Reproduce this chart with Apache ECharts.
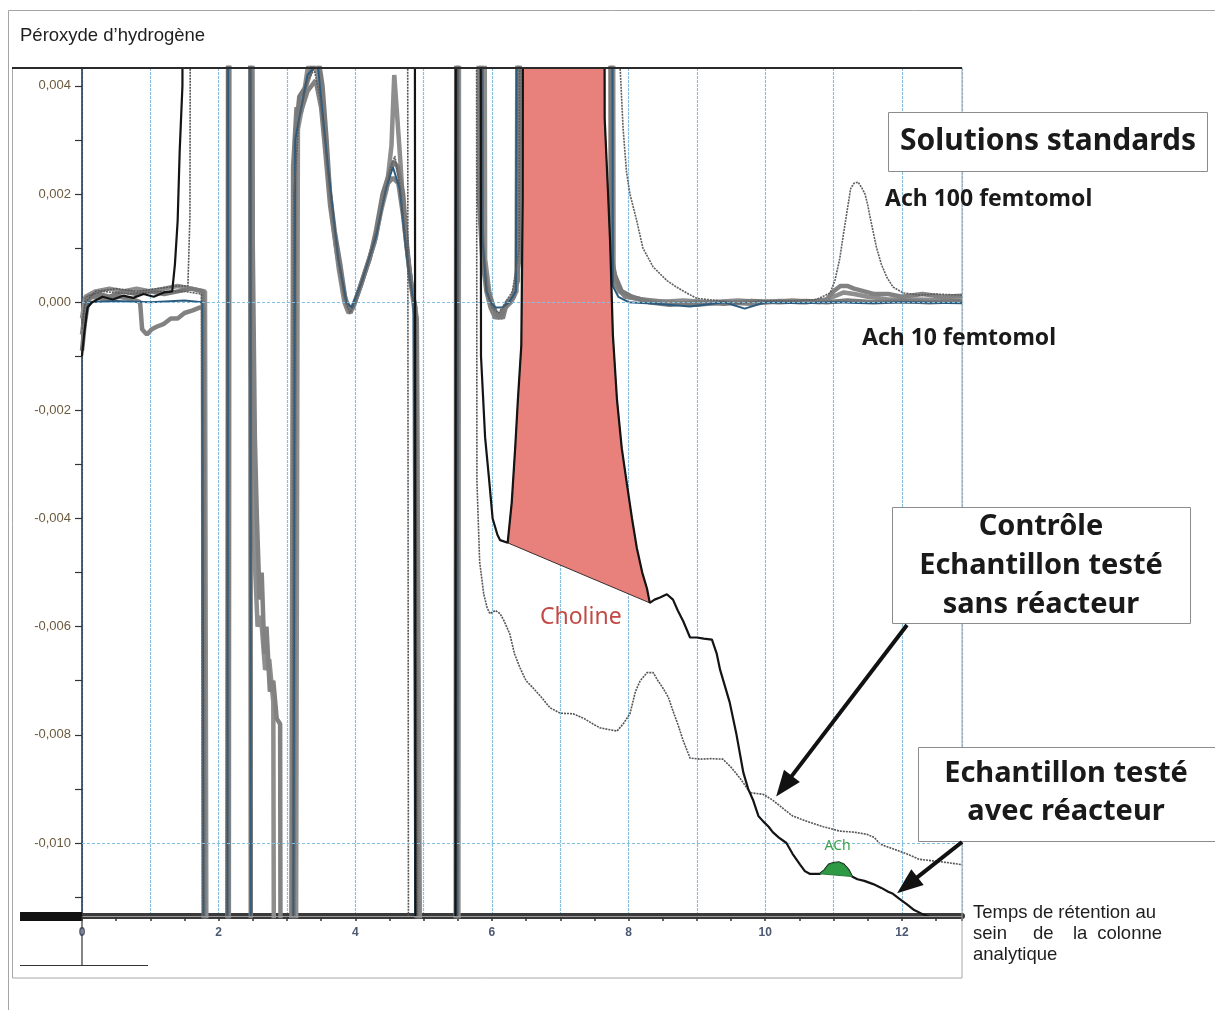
<!DOCTYPE html>
<html>
<head>
<meta charset="utf-8">
<script src="https://cdn.jsdelivr.net/npm/echarts@6/dist/echarts.min.js"></script>
<style>
html,body{margin:0;padding:0;background:#fff;}
#chart{width:1215px;height:1010px;}
</style>
</head>
<body>
<div id="chart"></div>
<script>
// ---- Axis values (retention time in min, H2O2 signal) ----
const xRange = [0, 12.88];
const yRange = [-0.01135, 0.00433];
const yLabelValues = [-0.010, -0.008, -0.006, -0.004, -0.002, 0, 0.002, 0.004];
const yTickValues = [-0.011, -0.010, -0.009, -0.008, -0.007, -0.006, -0.005, -0.004, -0.003, -0.002, -0.001, 0, 0.001, 0.002, 0.003, 0.004];

// ---- Standard solution runs (grey traces) ----
const runStdA = [[0.00,-0.0009],[0.04,-0.0004],[0.10,0.0001],[0.25,0.00015],[0.40,0.0001],[0.60,0.0002],[0.80,0.00015],[1.00,0.0002],[1.20,0.00015],[1.40,0.0002],[1.60,0.00025],[1.77,0.0002],[1.80,-0.03],[2.12,-0.03],[2.15,0.03],[2.45,0.03],[2.48,-0.03],[3.07,-0.03],[3.12,0.0030],[3.18,0.0038],[3.28,0.0040],[3.38,0.0044],[3.46,0.0045],[3.52,0.0040],[3.58,0.0030],[3.63,0.0020],[3.70,0.0013],[3.78,0.0007],[3.85,0.0001],[3.90,-0.0001],[3.96,-0.0001],[4.02,0.0001],[4.10,0.0004],[4.21,0.0008],[4.30,0.0013],[4.40,0.0020],[4.50,0.0024],[4.56,0.0026],[4.62,0.0025],[4.70,0.0020],[4.76,0.0010],[4.82,0.0003],[4.88,-0.0001],[4.93,-0.03],[5.48,-0.03],[5.51,0.03],[5.82,0.03],[5.85,0.0014],[5.89,0.0006],[5.94,0.0002],[6.00,0.0000],[6.06,-0.0002],[6.12,-0.0003],[6.18,-0.0001],[6.25,0.0000],[6.32,0.0001],[6.40,0.0008],[6.45,0.03],[7.70,0.03],[7.74,0.0009],[7.80,0.0005],[7.90,0.0002],[8.05,0.0001],[8.30,0.0],[8.60,-0.00005],[9.00,0.0],[9.40,-0.00003],[9.80,0.00002],[10.20,0.0],[10.60,0.00002],[10.90,0.0],[11.20,0.00003],[11.60,0.0],[12.00,0.00002],[12.40,0.0],[12.88,0.00002]];

const runStdB = [[0.00,-0.0006],[0.06,0.0],[0.15,0.0001],[0.35,0.00005],[0.55,0.0001],[0.75,0.00005],[0.85,0.0],[0.88,-0.0005],[0.95,-0.0006],[1.02,-0.0005],[1.10,-0.00045],[1.20,-0.0004],[1.30,-0.0003],[1.40,-0.0003],[1.50,-0.0002],[1.62,-0.00015],[1.72,-0.0001],[1.78,-0.0001],[1.82,-0.03],[2.14,-0.03],[2.17,0.03],[2.46,0.03],[2.50,0.0010],[2.53,-0.0025],[2.56,-0.0040],[2.60,-0.0055],[2.63,-0.0050],[2.67,-0.0065],[2.70,-0.0060],[2.75,-0.0072],[2.80,-0.0070],[2.85,-0.0077],[2.90,-0.0078],[2.93,-0.03],[3.03,-0.03],[3.09,0.0025],[3.14,0.0036],[3.20,0.0035],[3.30,0.0039],[3.42,0.0041],[3.50,0.0036],[3.56,0.0028],[3.63,0.0018],[3.72,0.0010],[3.80,0.0004],[3.88,-0.0001],[3.93,-0.0002],[3.99,0.0],[4.08,0.0003],[4.18,0.0007],[4.30,0.0012],[4.40,0.0019],[4.48,0.0022],[4.55,0.0023],[4.63,0.0022],[4.70,0.0016],[4.78,0.0007],[4.86,0.0],[4.90,-0.0003],[4.97,-0.03],[5.46,-0.03],[5.49,0.03],[5.78,0.03],[5.81,0.0019],[5.86,0.0008],[5.92,0.0002],[5.98,-0.0001],[6.05,-0.0003],[6.10,-0.0002],[6.16,-0.0003],[6.22,0.0],[6.30,0.0001],[6.38,0.0004],[6.42,0.03],[7.72,0.03],[7.76,0.0007],[7.82,0.0003],[7.95,0.0001],[8.20,0.00005],[8.60,0.0],[9.00,-0.00005],[9.40,0.0],[9.80,-0.00003],[10.20,0.00002],[10.60,0.0],[10.90,0.00005],[11.00,0.0002],[11.10,0.0003],[11.20,0.0003],[11.30,0.00025],[11.45,0.0002],[11.60,0.00015],[11.80,0.00015],[12.00,0.0001],[12.30,0.00015],[12.60,0.0001],[12.88,0.00012]];

const runStdC = [[0.00,-0.0003],[0.05,0.0001],[0.20,0.0002],[0.40,0.00025],[0.60,0.0002],[0.80,0.00025],[1.00,0.0002],[1.20,0.00025],[1.40,0.0003],[1.60,0.00025],[1.80,0.0002],[1.85,-0.03],[2.13,-0.03],[2.16,0.03],[2.43,0.03],[2.47,-0.0010],[2.52,-0.0045],[2.57,-0.0060],[2.62,-0.0058],[2.68,-0.0068],[2.74,-0.0066],[2.80,-0.0074],[2.84,-0.03],[3.10,-0.03],[3.16,0.0032],[3.22,0.0036],[3.30,0.0043],[3.38,0.0046],[3.44,0.0043],[3.52,0.0035],[3.60,0.0024],[3.68,0.0014],[3.76,0.0006],[3.84,0.0],[3.90,-0.0002],[3.97,-0.0001],[4.05,0.0002],[4.15,0.0006],[4.28,0.0011],[4.38,0.0017],[4.46,0.0021],[4.53,0.0029],[4.57,0.0042],[4.61,0.0035],[4.66,0.0026],[4.72,0.0014],[4.80,0.0005],[4.86,-0.0001],[4.90,-0.0004],[5.02,-0.03],[5.50,-0.03],[5.53,0.03],[5.86,0.03],[5.90,0.0008],[5.96,0.0002],[6.02,-0.0001],[6.08,-0.0003],[6.14,-0.0002],[6.20,-0.0001],[6.28,0.0],[6.36,0.0002],[6.44,0.03],[7.74,0.03],[7.78,0.0006],[7.86,0.0002],[8.00,0.0001],[8.40,0.0],[8.80,0.00003],[9.20,0.0],[9.60,0.00003],[10.00,0.0],[10.40,0.00003],[10.80,0.0],[11.00,0.0001],[11.15,0.00018],[11.30,0.00015],[11.50,0.0001],[11.80,0.00005],[12.20,0.00005],[12.88,0.00003]];

// Ach 100 femtomol standard (thin dotted trace)
const runAch100 = [[0.00,-0.0005],[0.05,0.0001],[0.30,0.0002],[0.70,0.00015],[1.10,0.0002],[1.50,0.0002],[1.75,0.00015],[1.79,-0.03],[2.10,-0.03],[2.14,0.03],[2.46,0.03],[2.49,-0.03],[3.06,-0.03],[3.10,0.0020],[3.18,0.0034],[3.30,0.0041],[3.40,0.0043],[3.48,0.0038],[3.56,0.0029],[3.64,0.0019],[3.74,0.0009],[3.84,0.0001],[3.92,-0.0002],[4.00,0.0],[4.10,0.0004],[4.22,0.0009],[4.35,0.0015],[4.45,0.0021],[4.52,0.0025],[4.58,0.0027],[4.66,0.0021],[4.74,0.0011],[4.82,0.0002],[4.88,-0.0002],[4.95,-0.03],[5.49,-0.03],[5.52,0.03],[5.84,0.03],[5.87,0.0010],[5.93,0.0002],[6.00,-0.0001],[6.10,-0.0002],[6.20,0.0],[6.30,0.0002],[6.40,0.0010],[6.45,0.03],[7.85,0.03],[7.87,0.0045],[7.92,0.0032],[7.97,0.0024],[8.02,0.0020],[8.12,0.0015],[8.21,0.0010],[8.36,0.00065],[8.56,0.0004],[8.70,0.00028],[8.85,0.00017],[9.00,0.00007],[9.30,0.00003],[9.60,-0.00002],[10.00,0.00003],[10.40,0.00002],[10.75,0.00005],[10.95,0.00017],[11.02,0.0004],[11.09,0.0008],[11.15,0.0013],[11.20,0.0017],[11.25,0.0021],[11.30,0.0022],[11.36,0.00222],[11.42,0.0021],[11.46,0.0020],[11.50,0.0018],[11.53,0.0016],[11.58,0.0013],[11.63,0.0010],[11.70,0.0007],[11.78,0.00046],[11.87,0.00028],[12.02,0.00017],[12.26,0.00013],[12.50,0.00015],[12.88,0.00013]];

// Mobile-phase blank (blue trace)
const runBlank = [[0.05,-0.0003],[0.10,0.0],[0.50,0.00002],[1.00,0.0],[1.50,0.00003],[1.76,0.0],[1.81,-0.03],[2.12,-0.03],[2.15,0.03],[2.45,0.03],[2.48,-0.03],[3.06,-0.03],[3.12,0.0030],[3.30,0.0042],[3.45,0.0044],[3.60,0.0025],[3.75,0.0008],[3.87,0.0],[3.95,-0.0001],[4.10,0.0004],[4.30,0.0012],[4.45,0.0021],[4.55,0.0025],[4.65,0.0021],[4.75,0.0009],[4.85,0.0],[4.92,-0.03],[5.48,-0.03],[5.51,0.03],[5.83,0.03],[5.86,0.0012],[5.92,0.0002],[5.98,0.0],[6.05,-0.0001],[6.15,-0.0001],[6.25,0.0],[6.35,0.0002],[6.43,0.03],[7.73,0.03],[7.77,0.0003],[7.85,0.0001],[8.00,0.0],[8.40,-0.00003],[8.90,-0.00008],[9.40,0.0],[9.70,-0.00012],[10.00,0.0],[10.50,-0.00002],[11.00,0.0],[11.50,-0.00002],[12.00,0.0],[12.88,-0.00002]];

// Control: sample tested without reactor (thin dotted trace)
const runControl = [[0.00,-0.0004],[0.05,0.0],[0.20,0.0002],[0.50,0.00025],[0.80,0.0002],[1.10,0.00025],[1.40,0.0003],[1.55,0.0003],[1.58,0.0016],[1.62,0.03],[4.75,0.03],[4.79,-0.03],[5.45,-0.03],[5.48,0.03],[5.76,0.03],[5.78,-0.0033],[5.82,-0.0048],[5.88,-0.0054],[5.93,-0.00565],[5.97,-0.00576],[6.05,-0.0057],[6.12,-0.00576],[6.18,-0.0059],[6.26,-0.00613],[6.33,-0.0065],[6.41,-0.00676],[6.50,-0.0070],[6.60,-0.00713],[6.72,-0.0073],[6.85,-0.0075],[7.00,-0.0076],[7.19,-0.00761],[7.35,-0.0077],[7.48,-0.0078],[7.58,-0.00787],[7.70,-0.0079],[7.83,-0.00793],[7.92,-0.0078],[8.02,-0.00761],[8.10,-0.0072],[8.17,-0.0070],[8.27,-0.00685],[8.36,-0.00685],[8.43,-0.0070],[8.50,-0.00713],[8.58,-0.0073],[8.65,-0.00756],[8.72,-0.0078],[8.80,-0.00811],[8.90,-0.00843],[9.05,-0.00845],[9.20,-0.00844],[9.38,-0.00845],[9.50,-0.0086],[9.63,-0.0088],[9.78,-0.00907],[9.97,-0.0091],[10.10,-0.0092],[10.22,-0.00932],[10.40,-0.0095],[10.61,-0.0096],[10.85,-0.0097],[11.09,-0.00978],[11.30,-0.0098],[11.49,-0.00984],[11.60,-0.0099],[11.68,-0.01002],[11.85,-0.0101],[12.07,-0.0102],[12.25,-0.0103],[12.45,-0.01033],[12.65,-0.01036],[12.88,-0.0104]];

// Sample tested with reactor (black trace)
const runSample = [[0.00,-0.0010],[0.03,-0.0006],[0.08,-0.0001],[0.15,0.0],[0.30,0.0001],[0.45,0.00005],[0.60,0.00012],[0.75,0.00008],[0.90,0.00015],[1.05,0.0001],[1.20,0.00018],[1.32,0.0002],[1.36,0.0007],[1.40,0.0015],[1.43,0.0028],[1.47,0.0040],[1.50,0.03],[4.86,0.03],[4.89,-0.03],[5.46,-0.03],[5.48,0.03],[5.82,0.03],[5.84,-0.0010],[5.90,-0.0025],[5.96,-0.0033],[6.01,-0.0040],[6.08,-0.0043],[6.12,-0.0044],[6.23,-0.00445],[6.29,-0.0037],[6.34,-0.0027],[6.38,-0.0018],[6.43,-0.0008],[6.45,0.0019],[6.48,0.03],[7.62,0.03],[7.65,0.0034],[7.70,0.0020],[7.73,0.0011],[7.77,-0.0006],[7.83,-0.0018],[7.90,-0.0027],[7.98,-0.0034],[8.05,-0.0040],[8.12,-0.00454],[8.20,-0.0050],[8.27,-0.0053],[8.31,-0.00556],[8.38,-0.0055],[8.46,-0.00546],[8.56,-0.0054],[8.65,-0.0055],[8.72,-0.0057],[8.80,-0.0059],[8.90,-0.0062],[9.00,-0.0062],[9.10,-0.00622],[9.22,-0.00624],[9.29,-0.0065],[9.34,-0.0068],[9.41,-0.0071],[9.48,-0.0074],[9.58,-0.0080],[9.68,-0.0087],[9.75,-0.0090],[9.82,-0.0092],[9.90,-0.0095],[9.97,-0.0096],[10.05,-0.0097],[10.11,-0.0098],[10.20,-0.0099],[10.31,-0.0100],[10.40,-0.0102],[10.51,-0.0104],[10.58,-0.01052],[10.65,-0.01057],[10.80,-0.01057],[10.87,-0.0105],[10.93,-0.0104],[11.00,-0.01037],[11.08,-0.01036],[11.15,-0.0104],[11.22,-0.0105],[11.27,-0.01062],[11.35,-0.01067],[11.45,-0.0107],[11.58,-0.01076],[11.70,-0.01083],[11.80,-0.0109],[11.87,-0.01094],[11.95,-0.01102],[12.07,-0.01113],[12.18,-0.01124],[12.31,-0.01132],[12.40,-0.01136]];

// Integrated peak windows on the sample trace
const cholineSpan = [6.23, 8.31];
const achSpan = [10.80, 11.27];

// Where the annotation arrows point (time, signal)
const arrowTargets = [[10.16, -0.00914], [11.93, -0.01093]];
const labelAnchors = { choline: [7.30, -0.00583], ach: [11.06, -0.01005] };

const fmtY = v => v.toFixed(3).replace('.', ',');

const chart = echarts.init(document.getElementById('chart'), null, { renderer: 'canvas' });

const GRID_BLUE = '#86c0e0';
const GREY = '#828282';

function lineSeries(name, data, style, z) {
  return {
    name, type: 'line', data, z,
    showSymbol: false, symbol: 'none', silent: true, animation: false,
    clip: true,
    lineStyle: style
  };
}

function peakFill(span, fill, stroke, z) {
  return {
    type: 'custom', z, silent: true, animation: false,
    data: [0],
    renderItem: (params, api) => {
      const pts = runSample.filter(p => p[0] >= span[0] && p[0] <= span[1]).map(p => api.coord(p));
      const cs = params.coordSys;
      return {
        type: 'polygon',
        shape: { points: pts },
        style: { fill, stroke, lineWidth: 1 },
        clipPath: { type: 'rect', shape: { x: cs.x, y: cs.y, width: cs.width, height: cs.height } }
      };
    }
  };
}

const option = {
  animation: false,
  backgroundColor: '#ffffff',
  grid: { left: 82, right: 253, top: 68, bottom: 94, containLabel: false },
  xAxis: {
    type: 'value', min: xRange[0], max: xRange[1], interval: 1,
    axisLine: { onZero: false, lineStyle: { color: '#3a3a3a', width: 6 } },
    axisTick: { show: true, length: 5, lineStyle: { color: '#333', width: 1.5 } },
    minorTick: { show: true, splitNumber: 2, length: 5, lineStyle: { color: '#333', width: 1.5 } },
    axisLabel: {
      margin: 11, color: '#4d5872', fontSize: 12, fontWeight: 'bold', fontFamily: 'Liberation Sans',
      formatter: v => (Math.round(v) % 2 === 0 ? String(Math.round(v)) : '')
    },
    splitLine: { show: true, lineStyle: { color: GRID_BLUE, width: 1.2, type: [3, 1] } }
  },
  yAxis: {
    type: 'value', min: yRange[0], max: yRange[1],
    axisLine: { onZero: false, lineStyle: { color: '#1d2b45', width: 1.5 } },
    axisTick: { show: true, length: 7, customValues: yTickValues, lineStyle: { color: '#333', width: 1.2 } },
    axisLabel: {
      customValues: yLabelValues, margin: 11, color: '#6b5a3e', fontSize: 13,
      fontFamily: 'Liberation Sans', formatter: v => fmtY(v)
    },
    splitLine: { show: false }
  },
  series: [
    {
      type: 'line', data: [[0, 0]], z: 0, silent: true, showSymbol: false, symbol: 'none',
      lineStyle: { opacity: 0 },
      markLine: {
        silent: true, animation: false, symbol: ['none', 'none'], label: { show: false },
        lineStyle: { color: GRID_BLUE, width: 1.2, type: [3, 2] },
        data: yLabelValues.map(v => ({ yAxis: v }))
      }
    },
    lineSeries('stdC', runStdC, { color: '#8e8e8e', width: 4.5 }, 2),
    lineSeries('stdB', runStdB, { color: GREY, width: 4.5 }, 2),
    lineSeries('stdA', runStdA, { color: '#7a7a7a', width: 4.5 }, 2),
    lineSeries('blank', runBlank, { color: '#2d5b7e', width: 2 }, 2),
    lineSeries('ach100', runAch100, { color: '#5e5e5e', width: 1.6, type: [2, 1] }, 3),
    lineSeries('control', runControl, { color: '#555555', width: 1.6, type: [2, 1] }, 3),
    peakFill(cholineSpan, '#e8817b', '#3b2b2b', 4),
    lineSeries('sample', runSample, { color: '#141414', width: 2.2 }, 5),
    peakFill(achSpan, '#2f9a45', '#267a36', 6)
  ]
};

chart.setOption(option);

// ---- Annotations ----
function arrow(tail, tip) {
  const dx = tip[0] - tail[0], dy = tip[1] - tail[1];
  const len = Math.sqrt(dx * dx + dy * dy);
  const ux = dx / len, uy = dy / len;
  const hl = 26, hw = 10;
  const bx = tip[0] - ux * hl, by = tip[1] - uy * hl;
  return [
    { type: 'line', z: 120, shape: { x1: tail[0], y1: tail[1], x2: bx + ux * 2, y2: by + uy * 2 },
      style: { stroke: '#111', lineWidth: 4 } },
    { type: 'polygon', z: 121,
      shape: { points: [[tip[0], tip[1]], [bx - uy * hw, by + ux * hw], [bx + uy * hw, by - ux * hw]] },
      style: { fill: '#111' } }
  ];
}

function box(x, y, w, h, text, cx, cy, size, lh) {
  return [
    { type: 'rect', z: 110, shape: { x: x + 0.5, y: y + 0.5, width: w, height: h },
      style: { fill: '#fff', stroke: '#8c8c8c', lineWidth: 1 } },
    { type: 'text', z: 111, x: cx, y: cy,
      style: { text, fill: '#1a1a1a', font: 'bold ' + size + 'px "Noto Sans"', align: 'center', verticalAlign: 'middle', lineHeight: lh } }
  ];
}

const t1 = chart.convertToPixel({ gridIndex: 0 }, arrowTargets[0]);
const t2 = chart.convertToPixel({ gridIndex: 0 }, arrowTargets[1]);
const pChol = chart.convertToPixel({ gridIndex: 0 }, labelAnchors.choline);
const pAch = chart.convertToPixel({ gridIndex: 0 }, labelAnchors.ach);

const TXT = '18.5px "Liberation Sans"';

const graphics = [
  // outer frame and plot frame
  { type: 'polyline', z: 1, shape: { points: [[8.5, 1010], [8.5, 10.5], [1215, 10.5]] }, style: { stroke: '#a5a5a5', lineWidth: 1, fill: null } },
  { type: 'rect', z: 1, shape: { x: 12.5, y: 68.5, width: 949.5, height: 909.5 }, style: { fill: null, stroke: '#a8a8a8', lineWidth: 1 } },
  { type: 'line', z: 50, shape: { x1: 12, y1: 68, x2: 962, y2: 68 }, style: { stroke: '#2a2a2a', lineWidth: 2 } },
  { type: 'text', z: 50, x: 20, y: 36, style: { text: 'Péroxyde d\u2019hydrogène', fill: '#1e1e1e', font: TXT, verticalAlign: 'middle' } },
  // axis base decorations
  { type: 'rect', z: 50, shape: { x: 20, y: 912, width: 62, height: 9 }, style: { fill: '#111' } },
  { type: 'line', z: 50, shape: { x1: 82, y1: 916.5, x2: 962, y2: 916.5 }, style: { stroke: '#9a9a9a', lineWidth: 1 } },
  { type: 'line', z: 50, shape: { x1: 82, y1: 916, x2: 82, y2: 965 }, style: { stroke: '#333', lineWidth: 1.2 } },
  { type: 'line', z: 50, shape: { x1: 20, y1: 965.5, x2: 148, y2: 965.5 }, style: { stroke: '#333', lineWidth: 1.2 } },
  // x axis title
  { type: 'text', z: 50, x: 973, y: 913, style: { text: 'Temps de rétention au', fill: '#1e1e1e', font: TXT, verticalAlign: 'middle' } },
  { type: 'text', z: 50, x: 973, y: 934, style: { text: 'sein', fill: '#1e1e1e', font: TXT, verticalAlign: 'middle' } },
  { type: 'text', z: 50, x: 1033, y: 934, style: { text: 'de', fill: '#1e1e1e', font: TXT, verticalAlign: 'middle' } },
  { type: 'text', z: 50, x: 1073, y: 934, style: { text: 'la', fill: '#1e1e1e', font: TXT, verticalAlign: 'middle' } },
  { type: 'text', z: 50, x: 1162, y: 934, style: { text: 'colonne', fill: '#1e1e1e', font: TXT, verticalAlign: 'middle', align: 'right' } },
  { type: 'text', z: 50, x: 973, y: 955, style: { text: 'analytique', fill: '#1e1e1e', font: TXT, verticalAlign: 'middle' } },
  // peak labels
  { type: 'text', z: 60, x: pChol[0], y: pChol[1], style: { text: 'Choline', fill: '#c24a45', font: '23px "Noto Sans"', align: 'center', verticalAlign: 'middle' } },
  { type: 'text', z: 60, x: pAch[0], y: pAch[1], style: { text: 'ACh', fill: '#3aa24c', font: '14px "Noto Sans"', align: 'center', verticalAlign: 'middle' } },
  // standard labels
  ...box(888, 112, 319, 59, 'Solutions standards', 1048, 141, 30, 36),
  { type: 'text', z: 111, x: 885, y: 199, style: { text: 'Ach 100 femtomol', fill: '#1a1a1a', font: 'bold 23px "Noto Sans"', verticalAlign: 'middle' } },
  { type: 'text', z: 111, x: 862, y: 338, style: { text: 'Ach 10 femtomol', fill: '#1a1a1a', font: 'bold 23px "Noto Sans"', verticalAlign: 'middle' } },
  ...box(892, 507, 298, 116, 'Contrôle\nEchantillon testé\nsans réacteur', 1041, 566, 29, 39),
  ...box(918, 747, 297, 94, 'Echantillon testé\navec réacteur', 1066, 793, 29, 38),
  ...arrow([907, 625], t1),
  ...arrow([962, 842], t2)
];

chart.setOption({ graphic: graphics });
</script>
</body>
</html>
